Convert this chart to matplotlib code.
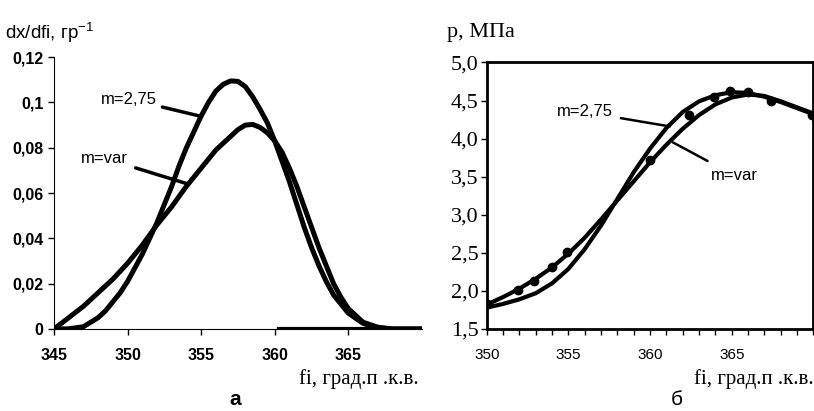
import matplotlib
matplotlib.use("Agg")
import matplotlib.pyplot as plt
from matplotlib.ticker import MultipleLocator

plt.rcParams['mathtext.default'] = 'regular'

# --- panel a: dx/dfi ---
fi_275 = [345, 346, 347, 347.5, 348, 348.5, 349, 349.5, 350, 350.5, 351, 351.5, 352,
          352.5, 353, 353.5, 354, 354.5, 355, 355.5, 356, 356.5, 357, 357.5, 358,
          358.5, 359, 359.5, 360, 360.5, 361, 361.5, 362, 362.5, 363, 363.5, 364,
          365, 366, 367, 368, 370]
dx_275 = [0, 0.0001, 0.001, 0.003, 0.005, 0.008, 0.012, 0.016, 0.021, 0.027, 0.033,
          0.040, 0.047, 0.055, 0.063, 0.072, 0.080, 0.087, 0.094, 0.100, 0.105,
          0.108, 0.1095, 0.1093, 0.107, 0.1025, 0.097, 0.091, 0.083, 0.074, 0.065,
          0.055, 0.045, 0.036, 0.028, 0.021, 0.015, 0.007, 0.0025, 0.0005, 0, 0]
fi_var = [345, 346, 347, 348, 349, 350, 351, 352, 353, 354, 355, 356, 357, 357.5,
          358, 358.5, 359, 359.5, 360, 360.5, 361, 361.5, 362, 362.5, 363, 363.5,
          364, 364.5, 365, 366, 367, 368, 370]
dx_var = [0, 0.005, 0.010, 0.016, 0.022, 0.029, 0.037, 0.046, 0.054, 0.063, 0.071,
          0.079, 0.085, 0.088, 0.0900, 0.0903, 0.0890, 0.0866, 0.083, 0.078, 0.071,
          0.063, 0.054, 0.045, 0.036, 0.028, 0.020, 0.014, 0.009, 0.003, 0.0008, 0, 0]
zero_x = [360.3, 370]
zero_y = [0, 0]
yticks_a = [0, 0.02, 0.04, 0.06, 0.08, 0.1, 0.12]
ylabels_a = ["0", "0,02", "0,04", "0,06", "0,08", "0,1", "0,12"]
xticks_a = [345, 350, 355, 360, 365]

# --- panel б: pressure ---
fi_b = [350, 351, 352, 353, 354, 355, 356, 357, 358, 359, 360, 361, 362, 363,
        364, 365, 366, 367, 368, 369, 370]
p_275 = [1.78, 1.83, 1.89, 1.97, 2.10, 2.29, 2.55, 2.86, 3.21, 3.56, 3.87, 4.14,
         4.35, 4.49, 4.57, 4.61, 4.60, 4.55, 4.48, 4.40, 4.32]
p_var = [1.82, 1.92, 2.03, 2.16, 2.31, 2.49, 2.70, 2.94, 3.19, 3.44, 3.69, 3.92,
         4.13, 4.31, 4.45, 4.54, 4.58, 4.56, 4.49, 4.41, 4.33]
fi_exp = [350, 351.9, 352.9, 354.0, 354.9, 360.0, 362.4, 363.9, 364.9, 366.0, 367.4, 369.9]
p_exp = [1.83, 2.01, 2.13, 2.32, 2.51, 3.72, 4.31, 4.55, 4.63, 4.61, 4.50, 4.31]
yticks_b = [1.5, 2.0, 2.5, 3.0, 3.5, 4.0, 4.5, 5.0]
ylabels_b = ["1,5", "2,0", "2,5", "3,0", "3,5", "4,0", "4,5", "5,0"]
xticks_b = [350, 355, 360, 365]

fig = plt.figure(figsize=(8.14, 4.11), dpi=100)
sans = "Liberation Sans"
serif = "Liberation Serif"

# panel a
ax1 = fig.add_axes([0.0663, 0.1995, 0.452, 0.6615])
ax1.plot(fi_275, dx_275, color="black", lw=3.6, solid_capstyle="round", solid_joinstyle="round")
ax1.plot(fi_var, dx_var, color="black", lw=3.6, solid_capstyle="round", solid_joinstyle="round")
ax1.plot(zero_x, zero_y, color="black", lw=3.0)
ax1.set_xlim(345, 370)
ax1.set_ylim(0, 0.12)
ax1.spines["top"].set_visible(False)
ax1.spines["right"].set_visible(False)
ax1.set_yticks(yticks_a)
ax1.set_yticklabels(ylabels_a, fontfamily=sans, fontweight="bold", fontsize=11.5)
ax1.set_xticks(xticks_a)
ax1.set_xticklabels([str(v) for v in xticks_a], fontfamily=sans, fontweight="bold", fontsize=11.5)
ax1.tick_params(axis="both", direction="out", length=4, width=1)
ax1.tick_params(axis="x", pad=10)
ax1.annotate("m=2,75", xy=(354.9, 0.094), xytext=(352.0, 0.1015),
             fontfamily=sans, fontsize=12, va="center", ha="right",
             arrowprops=dict(arrowstyle="-", color="black", lw=2.5,
                             shrinkA=2, shrinkB=0))
ax1.annotate("m=var", xy=(354.1, 0.064), xytext=(350.0, 0.0754),
             fontfamily=sans, fontsize=12, va="center", ha="right",
             arrowprops=dict(arrowstyle="-", color="black", lw=2.5,
                             shrinkA=4, shrinkB=0))
fig.text(0.006, 0.92, "dx/dfi, гр$^{-1}$", fontfamily=sans, fontsize=13.5, va="center")
fig.text(0.514, 0.078, "fi, град.п .к.в.", fontfamily=serif, fontsize=15,
         ha="right", va="center")
fig.text(0.289, 0.006, "а", fontfamily=sans, fontweight="bold", fontsize=15,
         ha="center", va="bottom")

# panel б
ax2 = fig.add_axes([0.598, 0.1995, 0.4013, 0.6485])
ax2.plot(fi_b, p_275, color="black", lw=3.0, solid_joinstyle="round")
ax2.plot(fi_b, p_var, color="black", lw=3.0, solid_joinstyle="round")
ax2.plot(fi_exp, p_exp, "o", color="black", ms=6)
ax2.set_xlim(350, 370)
ax2.set_ylim(1.5, 5.0)
for s in ax2.spines.values():
    s.set_linewidth(2)
ax2.set_yticks(yticks_b)
ax2.set_yticklabels(ylabels_b, fontfamily=serif, fontsize=16)
ax2.set_xticks(xticks_b)
ax2.set_xticklabels([str(v) for v in xticks_b], fontfamily=sans, fontsize=11)
ax2.xaxis.set_minor_locator(MultipleLocator(1))
ax2.tick_params(axis="both", direction="out", length=4, width=1)
ax2.tick_params(axis="x", which="minor", direction="out", length=4, width=1)
ax2.tick_params(axis="x", pad=10)
ax2.tick_params(axis="y", pad=2)
ax2.annotate("m=2,75", xy=(361.2, 4.16), xytext=(357.7, 4.35),
             fontfamily=sans, fontsize=12, va="center", ha="right",
             arrowprops=dict(arrowstyle="-", color="black", lw=1.8,
                             shrinkA=4, shrinkB=0))
ax2.annotate("m=var", xy=(361.4, 3.95), xytext=(363.7, 3.52),
             fontfamily=sans, fontsize=12, va="center", ha="left",
             arrowprops=dict(arrowstyle="-", color="black", lw=1.8,
                             shrinkA=6, shrinkB=0))
fig.text(0.549, 0.92, "p, МПа", fontfamily=serif, fontsize=16, va="center")
fig.text(0.999, 0.078, "fi, град.п .к.в.", fontfamily=serif, fontsize=15,
         ha="right", va="center")
fig.text(0.832, 0.027, "б", fontfamily=sans, fontsize=15, ha="center", va="center")

fig.savefig("out.png", dpi=100)
